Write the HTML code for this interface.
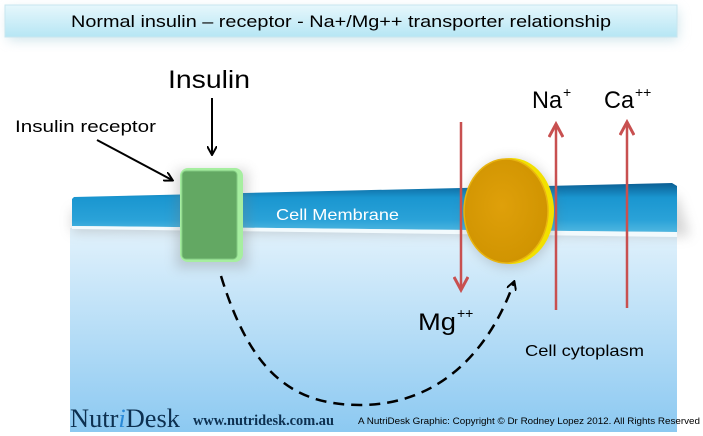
<!DOCTYPE html>
<html><head><meta charset="utf-8"><style>
html,body{margin:0;padding:0;background:#fff}
svg{display:block}
</style></head><body>
<svg width="703" height="436" viewBox="0 0 703 436" xmlns="http://www.w3.org/2000/svg" font-family="Liberation Sans, sans-serif">
<defs>
<linearGradient id="tb" x1="0" y1="0" x2="0" y2="1"><stop offset="0" stop-color="#e6f7fc"/><stop offset="1" stop-color="#b6e6f4"/></linearGradient>
<linearGradient id="cy" x1="0" y1="0" x2="0" y2="1"><stop offset="0" stop-color="#e2f2fc"/><stop offset="1" stop-color="#8cc9f1"/></linearGradient>
<linearGradient id="mb" x1="0" y1="0" x2="0" y2="1"><stop offset="0" stop-color="#0b5f94"/><stop offset="0.3" stop-color="#1a96d0"/><stop offset="0.75" stop-color="#2aa2d8"/><stop offset="1" stop-color="#4fb6e0"/></linearGradient>
<radialGradient id="gd" cx="0.45" cy="0.45" r="0.6"><stop offset="0" stop-color="#dfa00a"/><stop offset="1" stop-color="#cf9300"/></radialGradient>
<filter id="sh" x="-20%" y="-40%" width="140%" height="180%"><feGaussianBlur stdDeviation="6"/></filter>
<marker id="ak" markerWidth="10" markerHeight="10" refX="8" refY="5" orient="auto" markerUnits="userSpaceOnUse"><path d="M0,0 L9,5 L0,10" fill="none" stroke="#000" stroke-width="2"/></marker>
<marker id="ar" markerWidth="18" markerHeight="16" refX="14" refY="8" orient="auto" markerUnits="userSpaceOnUse"><path d="M1,1 L14,8 L1,15" fill="none" stroke="#c85050" stroke-width="3"/></marker>
</defs>
<!-- title -->
<rect x="8" y="10" width="670" height="30" fill="#9fc9d6" opacity="0.5" filter="url(#sh)"/>
<rect x="5" y="5" width="672" height="32" fill="url(#tb)" stroke="#c8e6ef"/>
<text x="341" y="27" font-size="17" text-anchor="middle" textLength="540" lengthAdjust="spacingAndGlyphs">Normal insulin – receptor -  Na+/Mg++ transporter relationship</text>
<!-- cytoplasm -->
<rect x="70" y="228" width="607" height="204" fill="url(#cy)"/>
<!-- membrane -->
<polygon points="72,210 677,196 690,236 72,232" fill="#888" opacity="0.35" filter="url(#sh)"/>
<polygon points="74,197 672,183 677,186 677,232 72,226 72,199" fill="url(#mb)"/>
<polygon points="72,226 677,232 677,237 72,229" fill="#f2fafd"/>
<text x="276" y="220" font-size="16" fill="#fff" textLength="123" lengthAdjust="spacingAndGlyphs">Cell Membrane</text>
<!-- receptor -->
<rect x="176" y="170" width="72" height="98" fill="#777" opacity="0.3" filter="url(#sh)"/>
<rect x="180" y="168" width="63" height="94" rx="8" fill="#a6eea0"/>
<rect x="182" y="171" width="55" height="88" rx="4" fill="#63a863" stroke="#80c880"/>
<!-- transporter -->
<ellipse cx="510" cy="213" rx="46" ry="54" fill="#666" opacity="0.3" filter="url(#sh)"/>
<ellipse cx="511" cy="211" rx="43" ry="53" fill="#f2e000"/>
<ellipse cx="506" cy="211" rx="42" ry="52" fill="url(#gd)" stroke="#e8b410" stroke-width="1.5"/>
<!-- red arrows -->
<line x1="461" y1="122" x2="461" y2="290" stroke="#c85050" stroke-width="2.5" marker-end="url(#ar)"/>
<line x1="556" y1="310" x2="556" y2="124" stroke="#c85050" stroke-width="2.5" marker-end="url(#ar)"/>
<line x1="627" y1="308" x2="627" y2="122" stroke="#c85050" stroke-width="2.5" marker-end="url(#ar)"/>
<!-- labels -->
<text x="168" y="88" font-size="25" textLength="82" lengthAdjust="spacingAndGlyphs">Insulin</text>
<line x1="212" y1="98" x2="212" y2="154" stroke="#000" stroke-width="2" marker-end="url(#ak)"/>
<text x="15" y="132" font-size="17" textLength="141" lengthAdjust="spacingAndGlyphs">Insulin receptor</text>
<line x1="97" y1="140" x2="172" y2="180" stroke="#000" stroke-width="2" marker-end="url(#ak)"/>
<text x="532" y="108" font-size="24" textLength="30" lengthAdjust="spacingAndGlyphs">Na</text>
<text x="563" y="97" font-size="14">+</text>
<text x="604" y="108" font-size="24" textLength="30" lengthAdjust="spacingAndGlyphs">Ca</text>
<text x="635" y="97" font-size="14">++</text>
<text x="418" y="330" font-size="24" textLength="38" lengthAdjust="spacingAndGlyphs">Mg</text>
<text x="457" y="318" font-size="14">++</text>
<text x="525" y="356" font-size="16" textLength="119" lengthAdjust="spacingAndGlyphs">Cell cytoplasm</text>
<!-- dashed curve -->
<path d="M221,276 C250,370 290,405 360,405 C440,405 490,350 514,282" fill="none" stroke="#000" stroke-width="2.5" stroke-dasharray="11,7" marker-end="url(#ak)"/>
<!-- footer -->
<text x="70" y="427" font-family="Liberation Serif, serif" font-size="26" fill="#0d3050" textLength="110" lengthAdjust="spacingAndGlyphs">Nutr<tspan fill="#2a8ad8" font-style="italic">i</tspan>Desk</text>
<text x="193" y="425" font-family="Liberation Serif, serif" font-weight="bold" font-size="15" fill="#0d3050" textLength="141" lengthAdjust="spacingAndGlyphs">www.nutridesk.com.au</text>
<text x="358" y="424" font-size="9" textLength="342" lengthAdjust="spacingAndGlyphs">A NutriDesk Graphic: Copyright © Dr Rodney Lopez 2012. All Rights Reserved</text>
</svg>
</body></html>
